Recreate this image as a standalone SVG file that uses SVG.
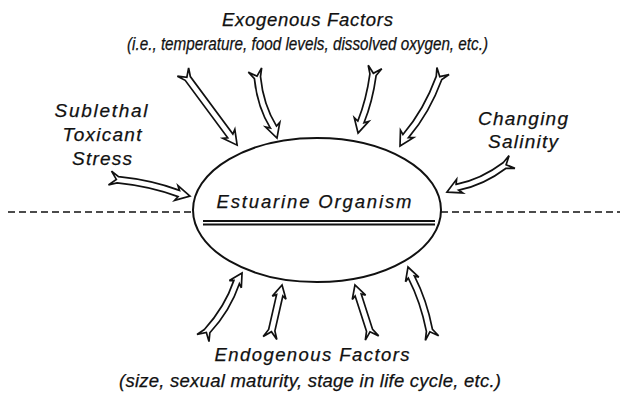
<svg xmlns="http://www.w3.org/2000/svg" width="624" height="399" viewBox="0 0 624 399">
<style>
.t{font-family:"Liberation Sans",Arial,sans-serif;font-style:italic;font-size:18.5px;fill:#111;text-anchor:middle;stroke:#111;stroke-width:0.25}
.s{font-size:19px}
.arw{fill:#fff;stroke:#111;stroke-width:1.7;stroke-linejoin:miter}
.dash{stroke:#111;stroke-width:1.6;stroke-dasharray:7 4;fill:none}
</style>
<defs>
<!-- arrow outline built per connector: swallow-tail shaft with open head -->
</defs>
<rect width="624" height="399" fill="#fff"/>
<g id="horizon">
<line class="dash" x1="8" y1="212" x2="193" y2="212"/>
<line class="dash" x1="441" y1="212" x2="620" y2="212"/>
</g>
<g id="organism">
<ellipse cx="317" cy="210" rx="124" ry="72" fill="#fff" stroke="#111" stroke-width="2"/>
<text class="t" x="314" y="208" textLength="195" lengthAdjust="spacing">Estuarine Organism</text>
<line x1="203" y1="221" x2="435" y2="221" stroke="#111" stroke-width="2.2"/>
<line x1="203" y1="224.5" x2="435" y2="224.5" stroke="#111" stroke-width="2.2"/>
</g>
<g id="exogenous">
<text class="t" x="307.5" y="26" textLength="171" lengthAdjust="spacing">Exogenous Factors</text>
<text class="t" x="307.5" y="50" textLength="361" lengthAdjust="spacingAndGlyphs">(i.e., temperature, food levels, dissolved oxygen, etc.)</text>
</g>
<g id="sublethal">
<text class="t s" x="101" y="117" textLength="93" lengthAdjust="spacing">Sublethal</text>
<text class="t s" x="102" y="141" textLength="79" lengthAdjust="spacing">Toxicant</text>
<text class="t s" x="102" y="165" textLength="60" lengthAdjust="spacing">Stress</text>
</g>
<g id="salinity">
<text class="t s" x="523" y="125" textLength="90" lengthAdjust="spacing">Changing</text>
<text class="t s" x="523" y="148" textLength="70" lengthAdjust="spacing">Salinity</text>
</g>
<g id="endogenous">
<text class="t" x="312" y="361" textLength="195" lengthAdjust="spacing">Endogenous Factors</text>
<text class="t" x="310" y="387" textLength="382" lengthAdjust="spacing">(size, sexual maturity, stage in life cycle, etc.)</text>
</g>
<g id="connectors">
<path class="arw" transform="translate(183 72) rotate(53.5)" d="M 91 0 L 77 -7.5 L 79.5 -3.2 L 8 -3.2 L 0 -7 L 6.5 0 L 0 7 L 8 3.2 L 79.5 3.2 L 77 7.5 Z"/>
<path class="arw" transform="translate(255 70) rotate(72.1)" d="M 71.5 0 L 57.5 -7.5 L 60 -3.2 Q 35.75 2.8 8 -3.2 L 0 -7 L 6.5 0 L 0 7 L 8 3.2 Q 35.75 9.2 60 3.2 L 57.5 7.5 Z"/>
<path class="arw" transform="translate(375 67) rotate(104.4)" d="M 68.2 0 L 54.2 -7.5 L 56.7 -3.2 Q 34.1 -6.2 8 -3.2 L 0 -7 L 6.5 0 L 0 7 L 8 3.2 Q 34.1 0.2 56.7 3.2 L 54.2 7.5 Z"/>
<path class="arw" transform="translate(443 71) rotate(119.8)" d="M 86.5 0 L 72.5 -7.5 L 75 -3.2 Q 43.25 -9.2 8 -3.2 L 0 -7 L 6.5 0 L 0 7 L 8 3.2 Q 43.25 -2.8 75 3.2 L 72.5 7.5 Z"/>
<path class="arw" transform="translate(110 178) rotate(12.7)" d="M 82 0 L 68 -7.5 L 70.5 -3.2 Q 41 -7.2 8 -3.2 L 0 -7 L 6.5 0 L 0 7 L 8 3.2 Q 41 -0.8 70.5 3.2 L 68 7.5 Z"/>
<path class="arw" transform="translate(512 162) rotate(155.2)" d="M 71.6 0 L 57.6 -7.5 L 60.1 -3.2 Q 35.8 -9.2 8 -3.2 L 0 -7 L 6.5 0 L 0 7 L 8 3.2 Q 35.8 -2.8 60.1 3.2 L 57.6 7.5 Z"/>
<path class="arw" transform="translate(203 338) rotate(-59)" d="M 75.8 0 L 62.8 -7 L 65.3 -3.2 Q 37.9 2.8 8 -3.2 L 0 -7 L 6.5 0 L 0 7 L 8 3.2 Q 37.9 9.2 65.3 3.2 L 62.8 7 Z"/>
<path class="arw" transform="translate(270 338) rotate(-77.2)" d="M 54.3 0 L 41.3 -7 L 43.8 -3.2 L 8 -3.2 L 0 -7 L 6.5 0 L 0 7 L 8 3.2 L 43.8 3.2 L 41.3 7 Z"/>
<path class="arw" transform="translate(372 338) rotate(-107.8)" d="M 55.7 0 L 42.7 -7 L 45.2 -3.2 L 8 -3.2 L 0 -7 L 6.5 0 L 0 7 L 8 3.2 L 45.2 3.2 L 42.7 7 Z"/>
<path class="arw" transform="translate(432 338) rotate(-108.7)" d="M 74.9 0 L 61.9 -7 L 64.4 -3.2 Q 37.45 0.8 8 -3.2 L 0 -7 L 6.5 0 L 0 7 L 8 3.2 Q 37.45 7.2 64.4 3.2 L 61.9 7 Z"/>
</g>
</svg>
